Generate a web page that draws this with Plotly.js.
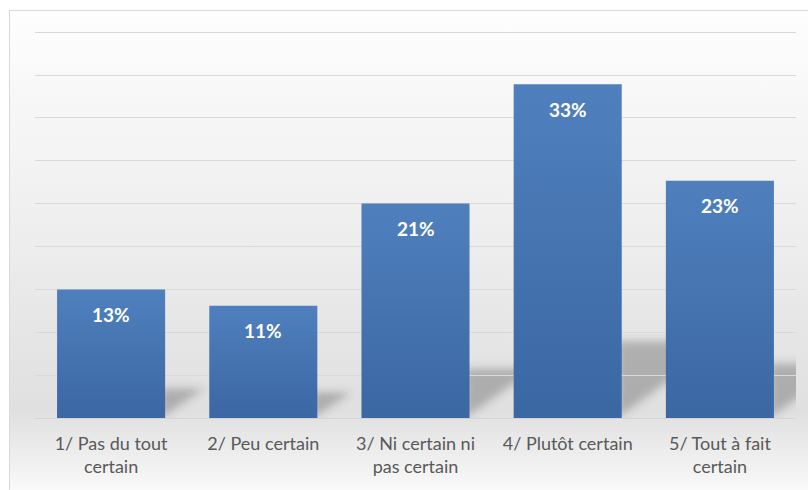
<!DOCTYPE html>
<html>
<head>
<meta charset="utf-8">
<script src="https://cdn.plot.ly/plotly-3.0.1.min.js"></script>
<style>
  html, body { margin: 0; padding: 0; background: #ffffff; }
  #wrap { position: relative; width: 808px; height: 490px; overflow: hidden; }
  #frame {
    position: absolute; left: 9px; top: 10px; width: 810px; height: 490px;
    border-left: 1px solid #d9d9d9; border-top: 1px solid #d9d9d9;
    background: linear-gradient(to bottom, #fefefe 0px, #f7f7f7 90px, #eeeeee 220px, #e5e5e5 330px, #e0e0e0 400px, #e6e6e6 420px, #f6f6f6 470px, #fbfbfb 480px);
  }
  #chart { position: absolute; left: 0; top: 0; width: 808px; height: 490px; }
</style>
</head>
<body>
<div id="wrap">
  <div id="frame"></div>
  <div id="chart"></div>
</div>
<script>
// ---- data ----
const categories = ["1/ Pas du tout<br>certain", "2/ Peu certain", "3/ Ni certain ni<br>pas certain", "4/ Plutôt certain", "5/ Tout à fait<br>certain"];
const values = [12.7, 11.1, 21.2, 33.0, 23.45];   // percent
const labels = values.map(v => Math.round(v) + "%");

// ---- layout helpers ----
const positions = categories.map((c, i) => i);
const gridStep = 4.238;
const yMax = gridStep * 9 * 1.003;
const barGap = 0.29;
const barW = 1 - barGap;

const bar = {
  type: "bar",
  x: positions,
  y: values,
  marker: { color: "#4574b1", line: { width: 0 } },
  hoverinfo: "skip",
  showlegend: false
};

const annotations = positions.map((p, i) => ({
  x: p, y: values[i], xref: "x", yref: "y",
  text: "<b>" + labels[i] + "</b>",
  showarrow: false, yanchor: "middle", yshift: -25,
  font: { family: "Lato, 'Open Sans', sans-serif", size: 19, color: "#ffffff" }
}));

// perspective shadows behind each bar
const shapes = positions.map((p, i) => {
  const R = p + barW / 2;
  const sh = 0.23 * values[i];
  const shift = 0.0203 * values[i];
  return {
    type: "path", xref: "x", yref: "y", layer: "below",
    path: `M ${R - 0.03} 0 L ${R - 0.03} ${sh} L ${R + shift} ${sh} Z`,
    fillcolor: "rgba(60,60,60,0.32)", line: { width: 0 }
  };
});

const layout = {
  width: 808, height: 490,
  margin: { l: 35, r: 12, t: 31, b: 72 },
  paper_bgcolor: "rgba(0,0,0,0)",
  plot_bgcolor: "rgba(0,0,0,0)",
  bargap: barGap,
  showlegend: false,
  xaxis: {
    range: [-0.5, 4.5],
    tickvals: positions, ticktext: categories,
    showgrid: false, zeroline: false,
    showline: true, linecolor: "#d4d4d4", linewidth: 1,
    ticks: "", ticklabelstandoff: 9,
    tickfont: { family: "Lato, 'Open Sans', sans-serif", size: 18, color: "#595959" },
    fixedrange: true
  },
  yaxis: {
    range: [0, yMax],
    dtick: gridStep, tick0: 0,
    showticklabels: false, ticks: "",
    showgrid: true, gridcolor: "#d9d9d9", gridwidth: 1,
    zeroline: false, showline: false,
    fixedrange: true
  },
  annotations: annotations,
  shapes: shapes
};

Plotly.newPlot("chart", [bar], layout, { staticPlot: true, displayModeBar: false }).then(gd => {
  const svg = gd.querySelector(".main-svg");
  const defs = svg.querySelector("defs");
  const NS = "http://www.w3.org/2000/svg";
  const grad = document.createElementNS(NS, "linearGradient");
  grad.setAttribute("id", "barGrad");
  grad.setAttribute("x1", "0"); grad.setAttribute("y1", "0");
  grad.setAttribute("x2", "0"); grad.setAttribute("y2", "1");
  [["0", "#4f80bd"], ["1", "#3b67a3"]].forEach(([o, c]) => {
    const s = document.createElementNS(NS, "stop");
    s.setAttribute("offset", o); s.setAttribute("stop-color", c);
    grad.appendChild(s);
  });
  defs.appendChild(grad);
  const filt = document.createElementNS(NS, "filter");
  filt.setAttribute("id", "shBlur");
  filt.setAttribute("x", "-50%"); filt.setAttribute("y", "-50%");
  filt.setAttribute("width", "200%"); filt.setAttribute("height", "200%");
  const blur = document.createElementNS(NS, "feGaussianBlur");
  blur.setAttribute("stdDeviation", "4");
  filt.appendChild(blur);
  defs.appendChild(filt);
  gd.querySelectorAll(".barlayer .point path").forEach(p => { p.style.fill = "url(#barGrad)"; });
  gd.querySelectorAll(".shapelayer path").forEach(p => {
    p.setAttribute("filter", "url(#shBlur)");
    p.style.filter = "url(#shBlur)";
  });
});
</script>
</body>
</html>
